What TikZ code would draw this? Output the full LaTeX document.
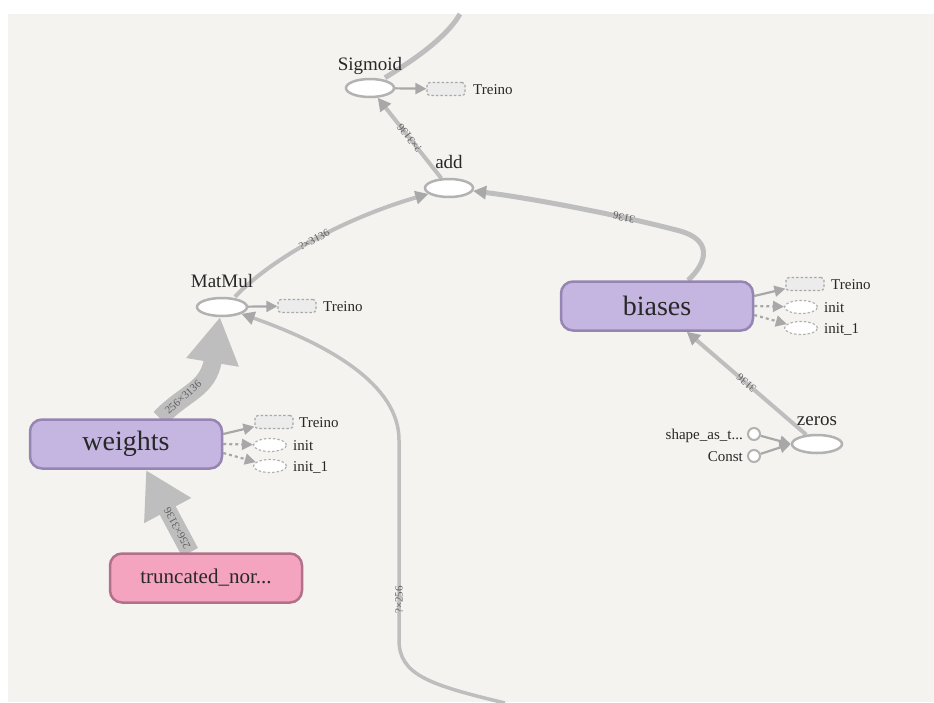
\documentclass[tikz,border=0pt]{standalone}
\usepackage{fontspec}
\setmainfont{Liberation Serif}
\usetikzlibrary{arrows.meta,shapes.geometric,backgrounds}
\definecolor{bgpaper}{RGB}{244,243,239}
\definecolor{flowgray}{RGB}{190,190,190}
\definecolor{tipgray}{RGB}{168,168,168}
\definecolor{opborder}{RGB}{178,178,178}
\definecolor{varfill}{RGB}{197,181,225}
\definecolor{varborder}{RGB}{150,132,178}
\definecolor{normfill}{RGB}{245,164,192}
\definecolor{normborder}{RGB}{178,112,138}
\definecolor{boxfill}{RGB}{236,236,236}
\definecolor{txtdark}{RGB}{40,40,40}
\definecolor{txtdim}{RGB}{95,95,95}
\begin{document}
\begin{tikzpicture}[x=1pt,y=-1pt,
  opnode/.style={ellipse, draw=opborder, fill=white, line width=2.5pt, minimum width=48pt, minimum height=18pt, inner sep=0pt},
  varbox/.style={rectangle, rounded corners=12pt, draw=varborder, fill=varfill, line width=2.5pt, minimum width=192pt, minimum height=49pt, text=txtdark, font=\fontsize{28}{30}\selectfont},
  treinobox/.style={rectangle, rounded corners=3pt, draw=tipgray, dash pattern=on 2.5pt off 2pt, fill=boxfill, line width=1.2pt, minimum width=38pt, minimum height=13pt, inner sep=0pt},
  initnode/.style={ellipse, draw=opborder, dash pattern=on 2.5pt off 2pt, fill=white, line width=1.2pt, minimum width=33pt, minimum height=13pt, inner sep=0pt},
  constnode/.style={circle, draw=opborder, fill=white, line width=2pt, minimum size=12pt, inner sep=0pt},
  optxt/.style={anchor=base, text=txtdark, font=\fontsize{19}{21}\selectfont, inner sep=0pt},
  smalltxt/.style={anchor=base west, text=txtdark, font=\fontsize{15}{17}\selectfont, inner sep=0pt},
  dataflow/.style={draw=flowgray, line width=4pt, -{Triangle[length=13pt,width=13pt,color=tipgray]}},
  fatflow/.style={draw=flowgray, line width=18pt, -{Triangle[length=46pt,width=50pt,color=flowgray]}},
  attrflow/.style={draw=tipgray, line width=2.2pt, -{Triangle[length=11pt,width=11pt]}},
  elabel/.style={sloped, allow upside down, text=txtdim, font=\fontsize{11}{12}\selectfont, inner sep=0pt}]
\useasboundingbox (0,0) rectangle (934,702);

\node[opnode] (sigmoid) at (370,88) {};
\node[optxt] (sigmoidtxt) at (370,70) {Sigmoid};
\node[treinobox] (sigtreino) at (446,89) {};
\node[smalltxt] (sigtreinotxt) at (473,94) {Treino};
\node[opnode] (add) at (449,188) {};
\node[optxt] (addtxt) at (449,168) {add};
\node[opnode, minimum width=50pt] (matmul) at (222,307) {};
\node[optxt] (matmultxt) at (222,287) {MatMul};
\node[treinobox] (mmtreino) at (297,306) {};
\node[smalltxt] (mmtreinotxt) at (323,311) {Treino};

\node[varbox] (biases) at (657,306) {biases};
\node[treinobox] (btreino) at (805,284) {};
\node[smalltxt] (btreinotxt) at (831,289) {Treino};
\node[initnode] (binit) at (801,307) {};
\node[smalltxt] (binittxt) at (824,312) {init};
\node[initnode] (binitone) at (801,328) {};
\node[smalltxt] (binitonetxt) at (824,333) {init\_1};
\node[opnode, minimum width=50pt] (zeros) at (817,444) {};
\node[optxt] (zerostxt) at (817,425) {zeros};
\node[constnode] (shapeast) at (754,434) {};
\node[smalltxt, anchor=base east] (shapeasttxt) at (743,439) {shape\_as\_t...};
\node[constnode] (const) at (754,456) {};
\node[smalltxt, anchor=base east] (consttxt) at (743,461) {Const};

\node[varbox] (weights) at (126,444) {weights};
\node[treinobox] (wtreino) at (274,422) {};
\node[smalltxt] (wtreinotxt) at (299,427) {Treino};
\node[initnode] (winit) at (270,445) {};
\node[smalltxt] (winittxt) at (293,450) {init};
\node[initnode] (winitone) at (270,466) {};
\node[smalltxt] (winitonetxt) at (293,471) {init\_1};
\node[varbox, fill=normfill, draw=normborder, font=\fontsize{21}{23}\selectfont] (truncnorm) at (206,578) {truncated\_nor...};

\coordinate (topout) at (460,14);
\coordinate (bottomin) at (505,703);

\begin{pgfonlayer}{background}
\fill[white] (0,0) rectangle (934,702);
\fill[bgpaper] (8,14) rectangle (934,702);
\draw[draw=flowgray, line width=5pt] ([xshift=15pt]sigmoid.north) .. controls (407,64) and (445,40) .. (topout);
\draw[attrflow] (sigmoid) -- (sigtreino);
\draw[dataflow] (add) -- node[elabel]{?×3136} (sigmoid);
\draw[dataflow] ([xshift=13pt]matmul.north) .. controls (272,258) and (345,218) .. (add) node[elabel, pos=0.5]{?×3136};
\draw[attrflow] (matmul) -- (mmtreino);
\draw[dataflow, line width=5pt] ([xshift=31pt]biases.north) .. controls (708,262) and (712,240) .. (680,231) .. controls (620,215) and (530,198) .. (add) node[elabel, pos=0.28]{3136};
\draw[attrflow] ([yshift=10pt]biases.east) -- (btreino);
\draw[attrflow, dash pattern=on 3pt off 3pt] (biases.east) -- (binit);
\draw[attrflow, dash pattern=on 3pt off 3pt] ([yshift=-9pt]biases.east) -- (binitone);
\draw[dataflow] (zeros) -- node[elabel]{3136} (biases);
\draw[attrflow] (shapeast) -- (zeros.west);
\draw[attrflow] (const) -- (zeros.west);
\draw[fatflow] ([xshift=34pt]weights.north) .. controls (185,392) and (208,390) .. (220,317) node[elabel, pos=0.32]{256×3136};
\draw[attrflow] ([yshift=10pt]weights.east) -- (wtreino);
\draw[attrflow, dash pattern=on 3pt off 3pt] (weights.east) -- (winit);
\draw[attrflow, dash pattern=on 3pt off 3pt] ([yshift=-9pt]weights.east) -- (winitone);
\draw[fatflow] ([xshift=-16pt]truncnorm.north) -- node[elabel, pos=0.29]{256×3136} (146,470);
\draw[dataflow, line width=3.5pt] (bottomin) .. controls (430,685) and (399,675) .. (399,640) -- node[elabel, pos=0.2]{?×256} (399,440) .. controls (399,385) and (330,345) .. (matmul);
\end{pgfonlayer}
\end{tikzpicture}
\end{document}
